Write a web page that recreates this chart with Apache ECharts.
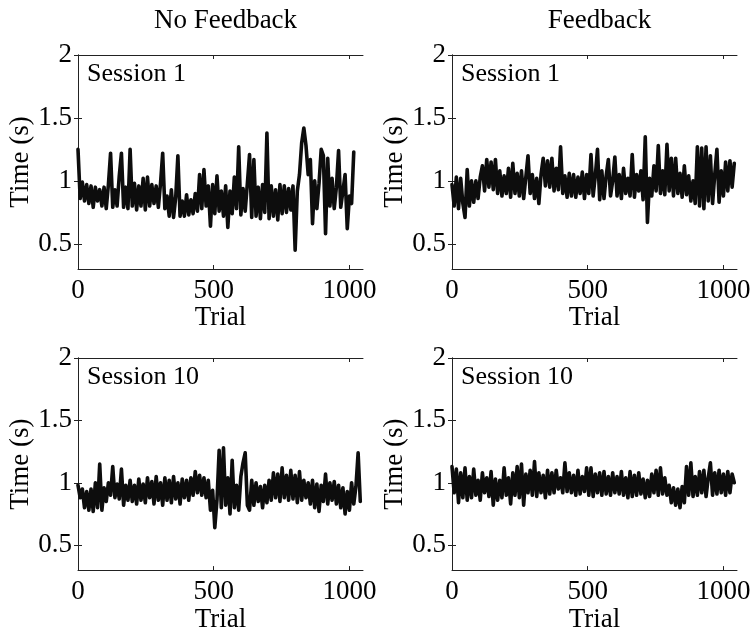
<!DOCTYPE html>
<html>
<head>
<meta charset="utf-8">
<script src="https://cdn.jsdelivr.net/npm/echarts@6/dist/echarts.min.js"></script>
<style>
  html, body { margin: 0; padding: 0; background: #fff; }
  #chart { width: 756px; height: 634px; }
</style>
</head>
<body>
<div id="chart"></div>
<script>
// ---------------- data ----------------
const columnTitles = ['No Feedback', 'Feedback'];
const sessionLabels = ['Session 1', 'Session 1', 'Session 10', 'Session 10'];
const xTicks = [0, 500, 1000];
const yTicks = [0.5, 1, 1.5, 2];
const trialStep = 8; // one sample every 8 trials

// No Feedback, Session 1
const noFbS1 = [
  1.25,0.86,0.99,0.84,0.97,0.82,0.96,0.79,0.95,0.84,
  0.93,0.80,0.95,0.78,0.97,1.22,0.79,0.93,0.80,1.04,
  1.22,0.79,0.95,0.78,1.25,0.80,0.98,0.77,0.96,0.80,
  1.02,0.77,1.03,0.80,0.97,0.82,0.96,0.79,0.98,1.22,
  0.78,0.88,0.72,0.93,0.71,0.87,1.20,0.72,0.84,0.72,
  0.89,0.73,0.85,0.74,0.90,0.76,1.05,0.78,1.09,0.80,
  0.96,0.64,0.97,0.74,1.04,0.76,0.92,0.72,0.96,0.63,
  0.92,0.74,1.03,0.78,1.27,0.73,0.94,0.76,0.98,1.21,
  0.71,1.17,0.72,0.95,0.70,0.97,0.75,1.38,0.70,0.96,
  0.72,0.93,0.69,0.97,0.74,0.96,0.75,0.94,0.77,0.96,
  0.45,0.92,1.05,1.30,1.42,1.28,1.05,1.17,0.66,1.00,
  0.78,0.98,1.25,1.20,0.58,1.18,0.80,1.02,0.78,0.95,
  1.24,0.79,0.92,1.05,0.62,0.88,0.82,1.23
];

// Feedback, Session 1
const fbS1 = [
  0.97,0.80,1.03,0.78,1.02,0.82,0.71,1.09,0.80,1.00,
  0.83,1.00,0.86,1.03,1.12,0.92,1.17,0.95,1.15,0.93,
  1.17,0.90,1.08,0.88,1.04,0.90,1.10,0.87,1.14,0.90,
  1.06,0.88,1.08,0.86,1.03,1.20,0.90,1.05,0.86,1.02,
  0.82,1.05,1.18,0.96,1.16,0.95,1.18,0.92,1.10,0.93,
  1.27,0.90,1.04,0.87,1.06,0.88,1.05,0.87,1.03,0.90,
  1.07,0.86,1.05,0.90,1.21,0.88,1.04,1.25,0.85,1.08,
  0.86,1.04,1.17,0.88,1.00,1.19,0.88,1.05,0.86,1.10,
  0.90,1.02,0.88,1.21,0.87,1.05,0.92,1.08,0.85,1.35,
  0.67,1.02,0.88,1.12,0.92,1.28,0.90,1.08,0.89,1.29,
  0.92,1.18,0.88,1.18,0.90,1.06,0.87,1.12,0.89,1.04,
  0.84,1.00,0.82,1.27,0.80,1.26,0.78,1.27,0.84,1.20,
  0.82,1.05,1.25,0.83,1.08,0.88,1.15,0.92,1.16,0.95,
  1.14
];

// No Feedback, Session 10
const noFbS10 = [
  0.98,0.88,0.95,0.80,0.93,0.78,0.95,0.77,1.00,0.80,
  1.15,0.78,0.96,0.85,1.00,0.90,1.13,0.88,0.99,0.87,
  1.11,0.82,0.98,0.86,1.02,0.85,0.98,0.83,1.03,0.86,
  0.99,0.84,1.04,0.88,1.01,0.83,1.05,0.86,1.00,0.82,
  1.04,0.86,1.02,0.84,1.05,0.87,1.00,0.83,1.03,0.88,
  1.02,0.86,1.04,0.90,1.09,0.92,1.06,0.90,1.04,0.88,
  1.02,0.78,0.94,0.64,0.86,1.26,0.80,1.28,0.82,1.04,
  0.75,1.18,0.80,0.98,0.78,1.05,1.16,1.24,0.82,0.78,
  1.02,0.82,1.00,0.85,0.97,0.80,0.98,0.84,1.02,0.86,
  1.08,0.88,1.07,0.85,1.12,0.88,1.06,0.86,1.10,0.87,
  1.06,0.84,1.09,0.86,1.02,0.88,1.00,0.83,1.02,0.80,
  0.99,0.77,0.98,0.85,1.07,0.83,1.00,0.86,1.01,0.83,
  0.98,0.80,0.96,0.75,0.93,0.78,1.00,0.83,0.97,1.24,
  0.85
];

// Feedback, Session 10
const fbS10 = [
  1.13,0.92,1.11,0.84,1.08,0.88,1.12,0.86,1.05,0.88,
  1.11,0.90,1.02,0.86,1.08,0.92,1.04,0.89,1.09,0.82,
  1.03,0.86,1.02,0.88,1.12,0.90,1.04,0.83,1.08,0.90,
  1.13,0.88,1.15,0.82,1.07,0.92,1.10,0.90,1.17,0.89,
  1.08,0.92,1.06,0.88,1.10,0.91,1.08,0.92,1.10,0.95,
  1.04,0.92,1.16,0.93,1.08,0.92,1.06,0.90,1.10,0.91,
  1.05,0.93,1.12,0.90,1.12,0.89,1.07,0.92,1.08,0.90,
  1.09,0.91,1.05,0.90,1.08,0.92,1.05,0.91,1.09,0.90,
  1.04,0.88,1.09,0.89,1.06,0.90,1.08,0.91,1.03,0.88,
  1.02,0.89,1.07,0.92,1.10,0.90,1.12,0.91,1.04,0.90,
  0.98,0.84,0.96,0.82,0.95,0.80,0.97,0.84,1.13,0.90,
  1.16,0.89,1.05,0.90,1.09,0.92,1.10,0.89,1.04,1.16,
  0.90,1.08,0.91,1.10,0.92,1.07,0.90,1.09,0.92,1.07,
  1.00
];

const panels = [noFbS1, fbS1, noFbS10, fbS10];

// ---------------- layout ----------------
const FONT = "'Liberation Serif', 'Times New Roman', 'DejaVu Serif', serif";
const grids = [
  { left: 78, top: 55, width: 285, height: 214 },
  { left: 452, top: 55, width: 285, height: 214 },
  { left: 78, top: 358, width: 285, height: 213 },
  { left: 452, top: 358, width: 285, height: 213 }
];

const xAxes = [], yAxes = [], series = [], graphics = [];
const axisLineStyle = { show: true, lineStyle: { color: '#222', width: 1 } };
const tickStyle = { show: true, inside: true, length: 4, lineStyle: { color: '#222', width: 1 } };
const plainNum = v => String(v);

grids.forEach((g, i) => {
  xAxes.push({
    type: 'value', gridIndex: i, position: 'bottom', min: 0, max: 1050,
    name: 'Trial', nameLocation: 'middle', nameGap: 30,
    nameTextStyle: { fontFamily: FONT, fontSize: 27, color: '#000' },
    axisLine: axisLineStyle,
    axisTick: Object.assign({ customValues: xTicks }, tickStyle),
    axisLabel: { customValues: xTicks, formatter: plainNum, fontFamily: FONT, fontSize: 27, color: '#000', margin: 8 },
    splitLine: { show: false }
  });
  xAxes.push({
    type: 'value', gridIndex: i, position: 'top', min: 0, max: 1050,
    axisLine: axisLineStyle,
    axisTick: Object.assign({ customValues: xTicks }, tickStyle),
    axisLabel: { show: false },
    splitLine: { show: false }
  });
  yAxes.push({
    type: 'value', gridIndex: i, position: 'left', min: 0.3, max: 2,
    name: 'Time (s)', nameLocation: 'middle', nameGap: 44,
    nameTextStyle: { fontFamily: FONT, fontSize: 27, color: '#000' },
    axisLine: axisLineStyle,
    axisTick: Object.assign({ customValues: yTicks }, tickStyle),
    axisLabel: { customValues: yTicks, formatter: plainNum, fontFamily: FONT, fontSize: 27, color: '#000', margin: 6 },
    splitLine: { show: false }
  });
  yAxes.push({
    type: 'value', gridIndex: i, position: 'right', min: 0.3, max: 2,
    axisLine: axisLineStyle,
    axisTick: Object.assign({ customValues: yTicks }, tickStyle),
    axisLabel: { show: false },
    splitLine: { show: false }
  });

  series.push({
    type: 'line',
    xAxisIndex: i * 2,
    yAxisIndex: i * 2,
    data: panels[i].map((v, k) => [k * trialStep, v]),
    showSymbol: false,
    symbol: 'none',
    lineStyle: { color: '#0d0d0d', width: 3.6, join: 'round', cap: 'round' },
    silent: true
  });

  graphics.push({
    type: 'text',
    left: g.left + 9,
    top: g.top + 6,
    style: { text: sessionLabels[i], font: '26px ' + FONT, fill: '#000' }
  });
});

const titles = columnTitles.map((t, c) => ({
  text: t,
  left: grids[c].left + grids[c].width / 2,
  textAlign: 'center',
  top: 2,
  textStyle: { fontFamily: FONT, fontSize: 27, fontWeight: 'normal', color: '#000' }
}));

const chart = echarts.init(document.getElementById('chart'));
chart.setOption({
  animation: false,
  backgroundColor: '#fff',
  title: titles,
  grid: grids,
  xAxis: xAxes,
  yAxis: yAxes,
  series: series,
  graphic: graphics
});
</script>
</body>
</html>
